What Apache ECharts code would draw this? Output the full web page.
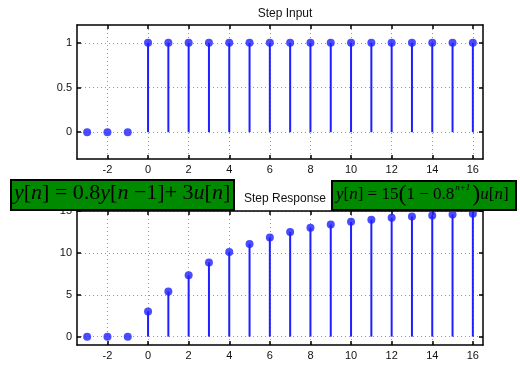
<!DOCTYPE html>
<html><head><meta charset="utf-8">
<script src="https://cdn.jsdelivr.net/npm/echarts@6/dist/echarts.min.js"></script>
<style>html,body{margin:0;padding:0;background:#fff}#c{width:520px;height:365px}</style>
</head><body><div id="c"></div>
<script>
const n = [-3,-2,-1,0,1,2,3,4,5,6,7,8,9,10,11,12,13,14,15,16];
const stepInput = [0,0,0,1,1,1,1,1,1,1,1,1,1,1,1,1,1,1,1,1];
const stepResponse = [0,0,0,3.0,5.4,7.32,8.86,10.09,11.07,11.85,12.48,12.99,13.39,13.71,13.97,14.18,14.34,14.47,14.58,14.66];
const xTicks = [-2,0,2,4,6,8,10,12,14,16];
const yTicksTop = [0,0.5,1];
const yTicksBottom = [0,5,10,15];
const titles = ['Step Input','Step Response'];

const BLUE = '#1f1fff';
const font = 'Liberation Sans, Arial, sans-serif';
const serif = 'Liberation Serif, Times New Roman, serif';

function xAxes(gi){
  const base = {type:'value', gridIndex:gi, min:-3.5, max:16.5};
  return [
    Object.assign({}, base, {position:'bottom',
      axisLine:{show:true, onZero:false, lineStyle:{color:'#000', width:1.5}},
      axisTick:{show:true, inside:true, length:4, customValues:xTicks, lineStyle:{color:'#000', width:1.5}},
      axisLabel:{customValues:xTicks, color:'#111', fontSize:11, fontFamily:font, margin:5},
      splitLine:{show:true, lineStyle:{color:'#999', type:[1,3], width:1}}}),
    Object.assign({}, base, {position:'top',
      axisLine:{show:true, onZero:false, lineStyle:{color:'#000', width:1.5}},
      axisTick:{show:true, inside:true, length:4, customValues:xTicks, lineStyle:{color:'#000', width:1.5}},
      axisLabel:{show:false}, splitLine:{show:false}})
  ];
}
function yAxes(gi, mn, mx, ticks){
  const base = {type:'value', gridIndex:gi, min:mn, max:mx};
  return [
    Object.assign({}, base, {position:'left',
      axisLine:{show:true, onZero:false, lineStyle:{color:'#000', width:1.5}},
      axisTick:{show:true, inside:true, length:4, customValues:ticks, lineStyle:{color:'#000', width:1.5}},
      axisLabel:{customValues:ticks, color:'#111', fontSize:11, fontFamily:font, margin:5},
      splitLine:{show:true, lineStyle:{color:'#999', type:[1,3], width:1}}}),
    Object.assign({}, base, {position:'right',
      axisLine:{show:true, onZero:false, lineStyle:{color:'#000', width:1.5}},
      axisTick:{show:true, inside:true, length:4, customValues:ticks, lineStyle:{color:'#000', width:1.5}},
      axisLabel:{show:false}, splitLine:{show:false}})
  ];
}

function stems(xi, yi, vals){
  return {
    type:'custom', xAxisIndex:xi, yAxisIndex:yi, z:3,
    data: n.map((v,i)=>[v, vals[i]]),
    renderItem:(params, api)=>{
      const p0 = api.coord([api.value(0), 0]);
      const p1 = api.coord([api.value(0), api.value(1)]);
      return {type:'line', shape:{x1:p0[0], y1:p0[1], x2:p1[0], y2:p1[1]},
        style:{stroke:BLUE, lineWidth:2}};
    }
  };
}
function markers(xi, yi, vals){
  return {type:'scatter', xAxisIndex:xi, yAxisIndex:yi, z:4, symbol:'circle', symbolSize:8,
    itemStyle:{color:BLUE}, data:n.map((v,i)=>[v, vals[i]]), silent:true};
}

const chart = echarts.init(document.getElementById('c'), null, {renderer:'canvas'});
chart.setOption({
  animation:false,
  backgroundColor:'#fff',
  title:[
    {text:titles[0], left:280, textAlign:'center', top:3, textStyle:{fontSize:12, fontWeight:'normal', color:'#111', fontFamily:font}},
    {text:titles[1], left:280, textAlign:'center', top:188, textStyle:{fontSize:12, fontWeight:'normal', color:'#111', fontFamily:font}}
  ],
  grid:[
    {left:77, right:37, top:25, height:134},
    {left:77, right:37, top:211, height:134}
  ],
  xAxis: xAxes(0).concat(xAxes(1)),
  yAxis: yAxes(0,-0.3,1.2,yTicksTop).concat(yAxes(1,-1,15,yTicksBottom)),
  series:[
    stems(0,0,stepInput), markers(0,0,stepInput),
    stems(2,2,stepResponse), markers(2,2,stepResponse)
  ],
  graphic:[
    {type:'rect', left:10, top:179, z:100, shape:{width:223, height:30},
      style:{fill:'#008a00', stroke:'#000', lineWidth:2}},
    {type:'text', left:14, top:182, z:101,
      style:{text:'{i|y}{r|[}{i|n}{r|] = 0.8}{i|y}{r|[}{i|n}{r| −1]+ 3}{i|u}{r|[}{i|n}{r|]}',
        rich:{
          i:{fontFamily:serif, fontStyle:'italic', fontSize:22, fill:'#000'},
          r:{fontFamily:serif, fontSize:22, fill:'#000'}
        }}},
    {type:'rect', left:331, top:180, z:100, shape:{width:184, height:29},
      style:{fill:'#008a00', stroke:'#000', lineWidth:2}},
    {type:'text', left:336, top:183, z:101,
      style:{text:'{i|y}{r|[}{i|n}{r|] = 15}{p|(}{r|1 − 0.8}{s|n+1}{p|)}{i|u}{r|[}{i|n}{r|]}',
        rich:{
          i:{fontFamily:serif, fontStyle:'italic', fontSize:17, fill:'#000'},
          r:{fontFamily:serif, fontSize:17, fill:'#000'},
          p:{fontFamily:serif, fontSize:24, fill:'#000'},
          s:{fontFamily:serif, fontStyle:'italic', fontSize:9, fill:'#000', verticalAlign:'top', padding:[0,2,0,1]}
        }}}
  ]
});
</script></body></html>
